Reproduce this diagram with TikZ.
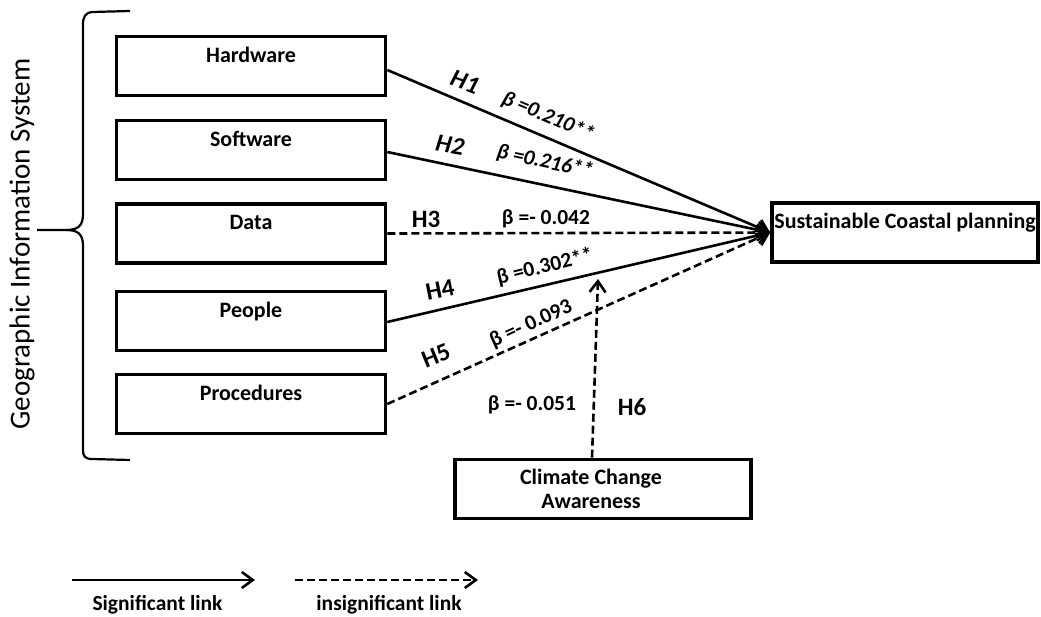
\documentclass[tikz,border=0pt]{standalone}
\usepackage{fontspec}
\setmainfont{Carlito}
\usetikzlibrary{arrows.meta}
\begin{document}
\begin{tikzpicture}[x=1pt,y=-1pt,
  basebox/.style={draw, line width=3.6pt, minimum width=269pt, minimum height=59pt, inner sep=0pt,
    font=\bfseries\fontsize{22}{24}\selectfont},
  box/.style={basebox, text height=14pt, text depth=22pt},
  sig/.style={line width=2.6pt, -{Straight Barb[length=11pt,width=16pt,line width=2.6pt]}},
  ins/.style={sig, dash pattern=on 8pt off 4pt},
  hlab/.style={font=\bfseries\fontsize{25}{27}\selectfont, inner sep=0pt},
  blab/.style={font=\bfseries\fontsize{21.5}{23}\selectfont, inner sep=0pt},
  ilab/.style={font=\bfseries\itshape\fontsize{21.5}{23}\selectfont, inner sep=0pt},
  leg/.style={font=\bfseries\fontsize{21.5}{23}\selectfont, inner sep=0pt}
]
\useasboundingbox (0,0) rectangle (1041,616);

% GIS label and bracket
\node[rotate=90, font=\fontsize{29}{31}\selectfont, inner sep=0pt] (gis) at (22,244) {Geographic Information System};
\draw[line width=2.2pt] (130,11) -- (92,12) .. controls (85,13) and (83,17) .. (83,25)
  -- (83,214) .. controls (83,226) and (78,230) .. (66,230) -- (37,230);
\draw[line width=2.2pt] (66,230) .. controls (78,230) and (83,234) .. (83,246)
  -- (83,450) .. controls (83,456) and (85,459) .. (92,459) -- (130,460);

% boxes
\node[box] (hw) at (251,66) {Hardware};
\node[box] (sw) at (251,150) {Software};
\node[box] (da) at (251,233.5) {Data};
\node[box] (pe) at (251,321) {People};
\node[box] (pr) at (251,404) {Procedures};
\node[box, minimum width=266pt] (scp) at (905,232.5) {Sustainable Coastal planning};
\node[basebox, minimum width=296pt, align=center] (cca) at (603,489) {\hspace*{-24pt}Climate Change\\\hspace*{-24pt}Awareness};

% connectors
\draw[sig] ([yshift=-4pt]hw.east) -- (scp.west);
\draw[sig] ([yshift=-2pt]sw.east) -- (scp.west);
\draw[ins] (da.east) -- (scp.west);
\draw[sig] ([yshift=-1pt]pe.east) -- (scp.west);
\draw[ins] (pr.east) -- (scp.west);
\coordinate (h6tip) at (598,279);
\draw[ins] ([xshift=-11pt]cca.north) -- (h6tip);

% labels
\node[hlab, rotate=-20, font=\bfseries\itshape\fontsize{25}{27}\selectfont] (l1) at (465,82) {H1};
\node[ilab, rotate=-23] (b1) at (548,117) {β =0.210**};
\node[hlab, rotate=-10, font=\bfseries\itshape\fontsize{25}{27}\selectfont] (l2) at (450,145) {H2};
\node[ilab, rotate=-12] (b2) at (545,162) {β =0.216**};
\node[hlab] (l3) at (426,219) {H3};
\node[blab] (b3) at (546,219) {β =- 0.042};
\node[hlab, rotate=11] (l4) at (440,290) {H4};
\node[blab, rotate=13.4] (b4) at (545,267) {β =0.302**};
\node[hlab, rotate=22] (l5) at (436,356) {H5};
\node[blab, rotate=24.4] (b5) at (531,324) {β =- 0.093};
\node[blab] (b6) at (532,405) {β =- 0.051};
\node[hlab] (l6) at (632,407) {H6};

% legend
\coordinate (la) at (72,580);
\coordinate (lb) at (255,580);
\coordinate (lc) at (295,580);
\coordinate (ld) at (478,580);
\draw[sig] (la) -- (lb);
\draw[ins] (lc) -- (ld);
\node[leg] (sl) at (157.5,605) {Significant link};
\node[leg] (il) at (389,605) {insignificant link};
\end{tikzpicture}
\end{document}
